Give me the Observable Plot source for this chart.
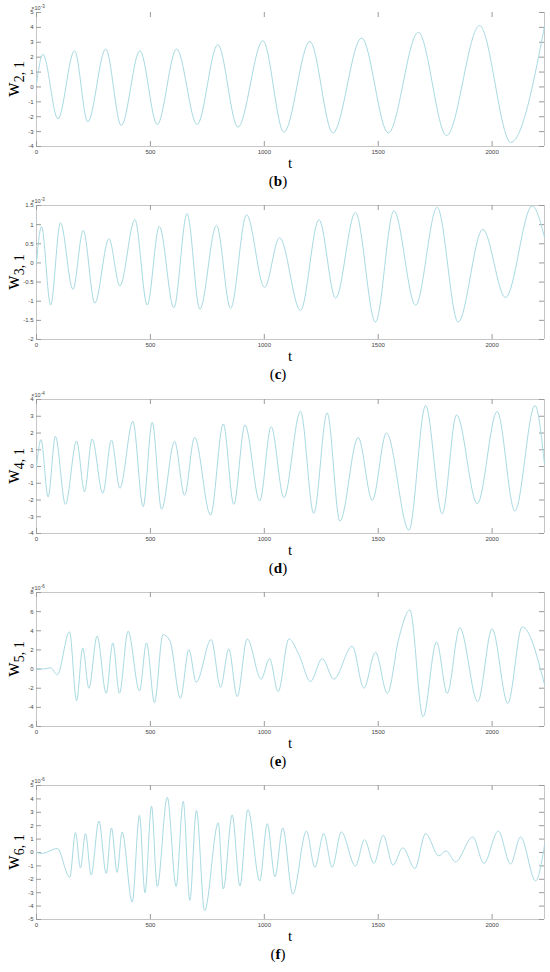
<!DOCTYPE html>
<html><head><meta charset="utf-8">
<script src="https://cdn.jsdelivr.net/npm/d3@7"></script>
<script src="https://cdn.jsdelivr.net/npm/@observablehq/plot@0.6"></script>
<style>
body{margin:0;background:#fff}
#chart{position:relative;width:550px;height:972px;overflow:hidden;background:#fff}
.panel{position:absolute;left:0}
.cap{position:absolute;left:0;width:556px;text-align:center;font-family:"Liberation Serif","DejaVu Serif",serif;font-size:15px;line-height:16px;color:#000}
</style></head><body><div id="chart"></div>
<script>
// time axis
const tMax = 2230;
const xTicks = [0, 500, 1000, 1500, 2000];

// (b) w_{2,1}, units of 1e-3
const b_t = [0, 28, 94, 167, 225, 304, 372, 454, 530, 615, 705, 796, 884, 994, 1086, 1200, 1301, 1427, 1544, 1676, 1800, 1945, 2082, 2230];
const b_v = [0.2, 2.2, -2.14, 2.43, -2.34, 2.55, -2.59, 2.43, -2.52, 2.55, -2.52, 2.84, -2.7, 3.11, -3.04, 3.06, -3.09, 3.29, -3.09, 3.67, -3.26, 4.12, -3.72, 4.05];
const b_yTicks = [-4, -3, -2, -1, 0, 1, 2, 3, 4, 5];

// (c) w_{3,1}, units of 1e-3
const c_t = [0, 22, 62, 105, 160, 205, 256, 318, 366, 432, 486, 539, 603, 661, 717, 790, 852, 922, 1001, 1067, 1159, 1240, 1313, 1400, 1488, 1569, 1664, 1759, 1851, 1959, 2059, 2176, 2230];
const c_v = [0, 0.955, -1.10, 1.05, -0.69, 0.85, -1.05, 0.63, -0.6, 1.13, -1.10, 0.955, -1.17, 1.29, -1.21, 0.98, -1.19, 1.26, -0.64, 0.66, -1.24, 1.13, -0.92, 1.32, -1.545, 1.36, -1.105, 1.45, -1.545, 0.876, -0.905, 1.49, 0.67];
const c_yTicks = [-2, -1.5, -1, -0.5, 0, 0.5, 1, 1.5];

// (d) w_{4,1}, units of 1e-4
const d_t = [0, 20, 51, 83, 127, 176, 211, 244, 291, 329, 366, 423, 468, 508, 549, 606, 650, 694, 764, 820, 866, 915, 980, 1030, 1086, 1159, 1217, 1276, 1332, 1412, 1474, 1536, 1635, 1708, 1781, 1844, 1935, 2022, 2100, 2188, 2230];
const d_v = [0, 1.6, -1.82, 1.8, -2.26, 1.52, -1.5, 1.64, -1.6, 1.58, -1.3, 2.7, -2.4, 2.64, -2.56, 1.5, -1.72, 1.74, -2.9, 2.54, -2.26, 2.48, -2.06, 2.38, -1.86, 3.3, -2.8, 3.2, -3.26, 1.74, -2.02, 2.0, -3.8, 3.64, -2.82, 3.08, -2.22, 3.28, -2.66, 3.64, 0.14];
const d_yTicks = [-4, -3, -2, -1, 0, 1, 2, 3, 4];

// (e) w_{5,1}, units of 1e-6
const e_t = [0, 35, 62, 91, 145, 176, 203, 230, 266, 306, 335, 364, 402, 452, 483, 518, 555, 585, 632, 669, 701, 767, 808, 844, 881, 925, 986, 1023, 1061, 1108, 1152, 1203, 1254, 1305, 1386, 1437, 1488, 1540, 1591, 1639, 1697, 1756, 1803, 1858, 1937, 2000, 2069, 2132, 2230];
const e_v = [0, 0.02, 0.14, -0.6, 3.89, -3.3, 2.2, -2.0, 3.44, -2.53, 2.74, -2.53, 3.96, -2.28, 2.74, -3.5, 3.6, 3.0, -3.05, 2.03, -1.37, 3.09, -1.9, 2.1, -2.88, 3.16, -1.05, 1.09, -2.35, 3.16, 1.5, -1.3, 1.09, -1.05, 2.39, -2.0, 1.75, -2.53, 3.26, 6.18, -4.98, 2.84, -2.53, 4.32, -3.4, 4.21, -3.58, 4.42, -1.6];
const e_yTicks = [-6, -4, -2, 0, 2, 4, 6, 8];

// (f) w_{6,1}, units of 1e-6
const f_t = [0, 25, 91, 146, 171, 193, 215, 240, 274, 306, 329, 354, 376, 420, 452, 476, 505, 530, 574, 613, 644, 673, 702, 738, 798, 820, 859, 893, 928, 980, 1013, 1047, 1081, 1125, 1185, 1222, 1261, 1298, 1338, 1400, 1440, 1481, 1522, 1565, 1608, 1661, 1708, 1766, 1798, 1839, 1915, 1964, 2027, 2081, 2125, 2191, 2230];
const f_v = [0, -0.07, 0.3, -1.85, 1.48, -1.14, 1.41, -1.68, 2.35, -1.56, 1.83, -1.48, 1.53, -3.7, 2.77, -3.0, 3.46, -2.54, 4.12, -2.54, 3.83, -3.58, 3.14, -4.35, 2.22, -2.72, 2.81, -2.49, 3.21, -2.12, 2.15, -1.8, 1.83, -3.11, 1.6, -1.11, 1.41, -1.11, 1.53, -1.01, 0.96, -0.81, 1.28, -0.94, 0.35, -1.19, 1.41, -0.25, 0.12, -0.69, 1.16, -0.81, 1.6, -0.86, 1.16, -2.12, 0.54];
const f_yTicks = [-5, -4, -3, -2, -1, 0, 1, 2, 3, 4, 5];

const panels = [
  {id: "b", sub: "2, 1", exp: "-3", t: b_t, v: b_v, yTicks: b_yTicks, top: 12, topLine: false},
  {id: "c", sub: "3, 1", exp: "-3", t: c_t, v: c_v, yTicks: c_yTicks, top: 205, topLine: true},
  {id: "d", sub: "4, 1", exp: "-4", t: d_t, v: d_v, yTicks: d_yTicks, top: 399, topLine: true},
  {id: "e", sub: "5, 1", exp: "-6", t: e_t, v: e_v, yTicks: e_yTicks, top: 592, topLine: true},
  {id: "f", sub: "6, 1", exp: "-6", t: f_t, v: f_v, yTicks: f_yTicks, top: 785, topLine: true}
];

const W = 550, ML = 36, MR = 6, MT = 12, PH = 134, MB = 26, PW = W - ML - MR;
const lineColor = "#a8dae2", frameColor = "#c6c6c6", tickColor = "#9a9a9a";
const chart = document.getElementById("chart");

for (const p of panels) {
  const rows = p.t.map((t, i) => ({t, v: p.v[i]}));
  const y0 = p.yTicks[0], y1 = p.yTicks[p.yTicks.length - 1];
  const svg = Plot.plot({
    width: W, height: MT + PH + MB,
    marginLeft: ML, marginRight: MR, marginTop: MT, marginBottom: MB,
    style: {fontFamily: "'Liberation Sans', Arial, sans-serif", fontSize: "6px", color: "#444", background: "#fff"},
    x: {domain: [0, tMax]},
    y: {domain: [y0, y1]},
    marks: [
      Plot.ruleY([y0], {stroke: frameColor}),
      p.topLine ? Plot.ruleY([y1], {stroke: frameColor}) : null,
      Plot.ruleX([0, tMax], {stroke: frameColor}),
      Plot.ruleX(xTicks, {x: d => d, insetTop: PH - 5, stroke: tickColor}),
      Plot.ruleX(xTicks, {x: d => d, insetBottom: PH - 5, stroke: tickColor}),
      Plot.ruleY(p.yTicks, {y: d => d, insetRight: PW - 5, stroke: tickColor}),
      Plot.ruleY(p.yTicks, {y: d => d, insetLeft: PW - 5, stroke: tickColor}),
      Plot.line(rows, {x: "t", y: "v", curve: "monotone-x", stroke: lineColor, strokeWidth: 1}),
      Plot.axisX({ticks: xTicks, tickSize: 0, tickPadding: 3, label: null, tickFormat: d => String(d)}),
      Plot.axisY({ticks: p.yTicks, tickSize: 0, tickPadding: 3, label: null, tickFormat: d => String(d)})
    ]
  });
  const s = d3.select(svg);
  // y label w_{n,1}
  const yl = s.append("text")
    .attr("transform", `translate(19,${MT + PH / 2}) rotate(-90)`)
    .attr("text-anchor", "middle")
    .attr("font-family", "'Liberation Serif', 'DejaVu Serif', serif")
    .attr("font-size", 20)
    .attr("fill", "#000");
  yl.append("tspan").text("w");
  yl.append("tspan").attr("dy", 5).attr("font-size", 14).text(p.sub);
  // exponent
  const ex = s.append("text")
    .attr("x", ML + 2).attr("y", MT - 2)
    .attr("font-family", "'Liberation Sans', Arial, sans-serif")
    .attr("font-size", 5.5).attr("fill", "#444");
  ex.append("tspan").text("×10");
  ex.append("tspan").attr("dy", -2).attr("font-size", 4.5).text(p.exp);
  // x label
  s.append("text")
    .attr("x", 290).attr("y", MT + PH + 22)
    .attr("text-anchor", "middle")
    .attr("font-family", "'Liberation Serif', 'DejaVu Serif', serif")
    .attr("font-size", 15).attr("fill", "#000")
    .text("t");

  const div = document.createElement("div");
  div.className = "panel";
  div.style.top = (p.top - MT) + "px";
  div.appendChild(svg);
  chart.appendChild(div);

  const cap = document.createElement("div");
  cap.className = "cap";
  cap.style.top = (p.top + PH + 27) + "px";
  cap.innerHTML = "(<b>" + p.id + "</b>)";
  chart.appendChild(cap);
}
</script>
</body></html>
